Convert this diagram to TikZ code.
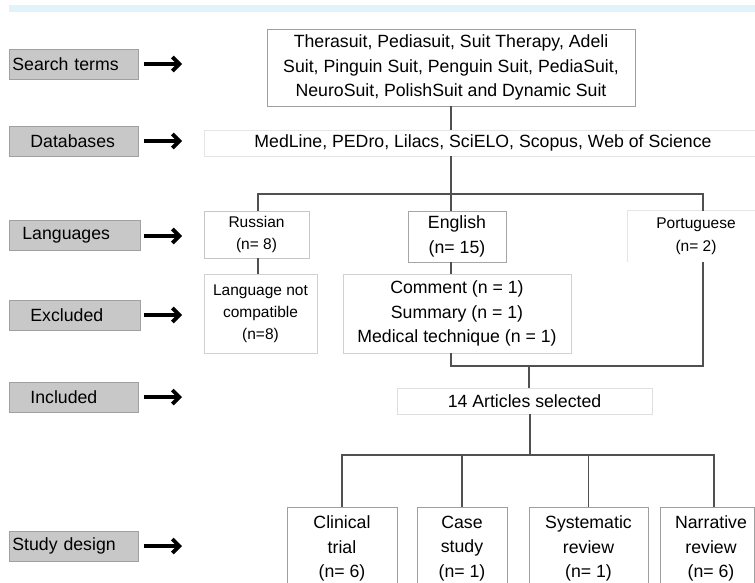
\documentclass[tikz,border=0pt]{standalone}
\usepackage{fontspec}
\setmainfont{Liberation Sans}
\usetikzlibrary{arrows.meta}
\definecolor{band}{HTML}{E0F3FA}
\definecolor{labfill}{HTML}{C8C8C8}
\definecolor{labdraw}{HTML}{A0A0A0}
\definecolor{conn}{HTML}{505050}
\newcommand{\bigfs}{\fontsize{17.7}{24.5}\selectfont}
\newcommand{\smallfs}{\fontsize{15.5}{22.5}\selectfont}
\begin{document}
\begin{tikzpicture}[x=1pt,y=-1pt,
  lab/.style 2 args={fill=labfill, draw=labdraw, line width=0.8pt, inner xsep=#1, text width=#2,
    align=left, minimum height=30pt, inner ysep=0pt, anchor=west, font=\bigfs},
  bigarrow/.style={line width=3.8pt, -{Straight Barb[length=7pt,width=14pt]}},
  box/.style={draw=#1, line width=0.8pt, inner sep=0pt, align=center},
  conline/.style={draw=conn, line width=1.2pt}
]
\useasboundingbox (0,0) rectangle (755,583);
\clip (0,0) rectangle (755,583);
\fill[band] (9,5) rectangle (755,12);

% left labels
\node[lab={3pt}{123pt}] (l1) at (9,64) {Search terms};
\node[lab={21pt}{87pt}] (l2) at (9,141) {Databases};
\node[lab={13pt}{105pt}] (l3) at (9,235) {Languages};
\node[lab={21pt}{89pt}] (l4) at (9,315) {Excluded};
\node[lab={21pt}{87pt}] (l5) at (9,397) {Included};
\node[lab={3pt}{123pt}] (l6) at (9,546) {Study design};

\coordinate (a1) at (182,64);
\coordinate (a2) at (182,141);
\coordinate (a3) at (182,236);
\coordinate (a4) at (182,315);
\coordinate (a5) at (182,397);
\coordinate (a6) at (182,546);
\draw[bigarrow] ([xshift=5pt]l1.east) -- (a1);
\draw[bigarrow] ([xshift=5pt]l2.east) -- (a2);
\draw[bigarrow] ([xshift=3pt]l3.east|-a3) -- (a3);
\draw[bigarrow] ([xshift=3pt]l4.east) -- (a4);
\draw[bigarrow] ([xshift=5pt]l5.east) -- (a5);
\draw[bigarrow] ([xshift=5pt]l6.east) -- (a6);

% main boxes
\node[box=gray!75, minimum width=368pt, minimum height=77pt, font=\bigfs] (srch) at (451,67.5)
  {Therasuit, Pediasuit, Suit Therapy, Adeli\\Suit, Pinguin Suit, Penguin Suit, PediaSuit,\\NeuroSuit, PolishSuit and Dynamic Suit};
\node[box=gray!20, minimum width=551pt, minimum height=26pt, font=\bigfs] (db) at (479.5,143)
  {\hspace*{7pt}MedLine, PEDro, Lilacs, SciELO, Scopus, Web of Science\hspace*{0pt}};
\node[box=gray!45, minimum width=105pt, minimum height=47pt, font=\smallfs] (rus) at (256.5,234.5)
  {\raisebox{-3pt}{Russian}\\\raisebox{-3pt}{(n= 8)}};
\node[box=gray!70, minimum width=98pt, minimum height=51pt, font=\bigfs] (eng) at (457,236.5)
  {\raisebox{-3pt}{English}\\\raisebox{-3pt}{(n= 15)}};
\node[inner sep=0pt, align=center, minimum width=136pt, minimum height=51pt, font=\smallfs] (por) at (696,236.5)
  {Portuguese\\(n= 2)};
\draw[gray!20, line width=0.8pt] (por.south west) -- (por.north west) -- (por.north east);
\node[box=gray!35, minimum width=113pt, minimum height=79pt, font=\fontsize{15.5}{22}\selectfont] (lnc) at (260.5,313.5)
  {Language not\\compatible\\(n=8)};
\node[box=gray!35, minimum width=228pt, minimum height=79pt, font=\bigfs] (exc) at (457,313.5)
  {Comment (n = 1)\\Summary (n = 1)\\Medical technique (n = 1)};
\node[box=gray!25, minimum width=255pt, minimum height=26pt, font=\bigfs] (art) at (524.5,401)
  {14 Articles selected};

% bottom boxes
\node[box=gray!75, minimum width=110pt, minimum height=83pt, font=\bigfs] (ct) at (342,548.5)
  {Clinical\\trial\\(n= 6)};
\node[box=gray!75, minimum width=90pt, minimum height=83pt, font=\bigfs] (cs) at (462,548.5)
  {Case\\study\\(n= 1)};
\node[box=gray!75, minimum width=119pt, minimum height=83pt, font=\bigfs] (sr) at (588.5,548.5)
  {Systematic\\review\\(n= 1)};
\node[box=gray!75, minimum width=94pt, minimum height=83pt, font=\bigfs] (nr) at (707,548.5)
  {\hspace*{8pt}Narrative\\\hspace*{8pt}review\\\hspace*{8pt}(n= 6)};

% connectors
\coordinate (t1) at (451,194);
\coordinate (tl) at (258,194);
\coordinate (tr) at (703,194);
\draw[conline] (srch.south) -- (srch.south |- db.north);
\draw[conline] (t1 |- db.south) -- (t1);
\draw[conline] (tl |- rus.north) -- (tl) -- (tr) -- (tr |- por.north);
\draw[conline] (t1) -- (t1 |- eng.north);
\draw[conline] (tl |- rus.south) -- (tl |- lnc.north);
\draw[conline] (t1 |- eng.south) -- (t1 |- exc.north);
\coordinate (m1) at (451,366);
\coordinate (m2) at (703,366);
\coordinate (mj) at (529,366);
\draw[conline] (m1 |- exc.south) -- (m1) -- (m2) -- (m2 |- por.south);
\draw[conline] (mj) -- (mj |- art.north);
\coordinate (bj) at (530,455);
\coordinate (b1) at (342,455);
\coordinate (b4) at (714,455);
\draw[conline] (bj |- art.south) -- (bj);
\draw[conline] (b1 |- ct.north) -- (b1) -- (b4) -- (b4 |- nr.north);
\draw[conline] (cs.north |- bj) -- (cs.north);
\draw[conline] (sr.north |- bj) -- (sr.north);
\end{tikzpicture}
\end{document}
